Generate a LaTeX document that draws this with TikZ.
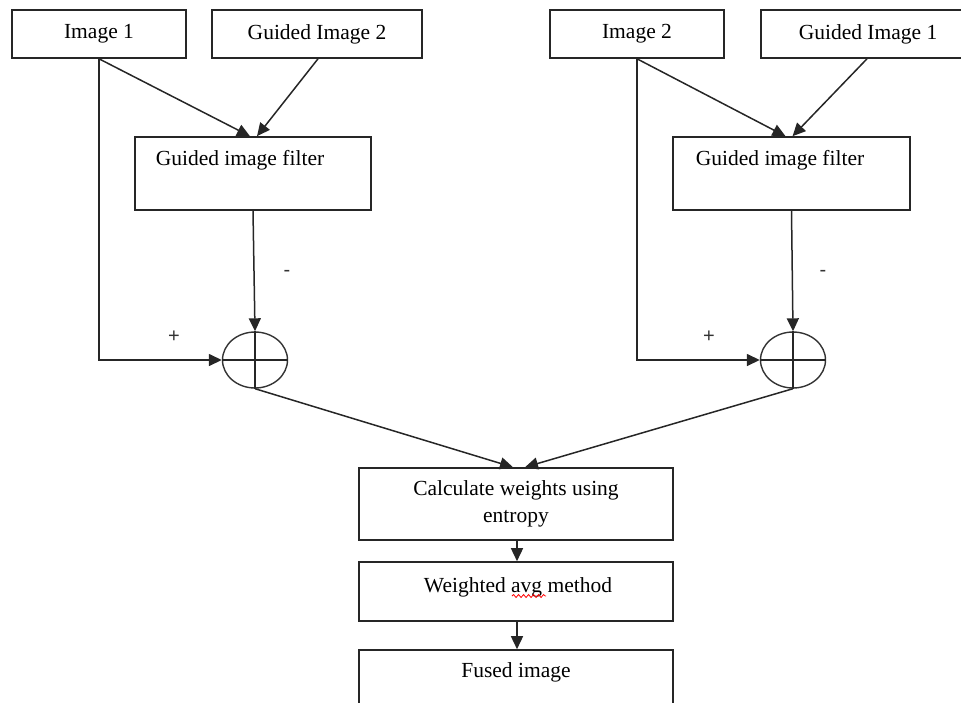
\documentclass[tikz,border=0pt]{standalone}
\usepackage{fontspec}
\setmainfont{Liberation Serif}
\newfontfamily\signfont{Liberation Sans}
\usetikzlibrary{arrows.meta,shapes.geometric,calc,decorations.pathmorphing}
\begin{document}
\begin{tikzpicture}[x=1pt,y=-1pt,
  every node/.style={font=\fontsize{21.5}{27}\selectfont},
  box/.style={draw=black!85,line width=1.6pt,rectangle,inner sep=0pt},
  txt/.style={inner sep=0pt},
  sumnode/.style={draw=black!80,line width=1.4pt,ellipse,minimum width=65pt,minimum height=56pt,inner sep=0pt},
  conn/.style={draw=black!85,line width=1.5pt},
  arr/.style={conn,-{Triangle[length=13pt,width=12pt]}},
  sign/.style={inner sep=0pt,text=black!80,font=\signfont\fontsize{20}{24}\selectfont}]
\useasboundingbox (0,0) rectangle (961,702);
\clip (0,0) rectangle (961,702);
% top boxes
\node[box,minimum width=174pt,minimum height=48pt] (i1) at (99,34) {Image 1};
\node[box,minimum width=210pt,minimum height=48pt] (g2) at (317,34) {Guided Image 2};
\node[box,minimum width=174pt,minimum height=48pt] (i2) at (637,34) {Image 2};
\node[box,minimum width=214pt,minimum height=48pt] (g1) at (868,34) {Guided Image 1};
% filters
\node[box,minimum width=236pt,minimum height=73pt] (fl) at (253,173.5) {};
\node[txt] (flt) at (240,160) {Guided image filter};
\node[box,minimum width=237pt,minimum height=73pt] (fr) at (791.5,173.5) {};
\node[txt] (frt) at (780,160) {Guided image filter};
% summing junctions
\node[sumnode] (sl) at (255,360) {};
\draw[conn] (sl.north) -- (sl.south) (sl.west) -- (sl.east);
\node[sumnode] (sr) at (793,360) {};
\draw[conn] (sr.north) -- (sr.south) (sr.west) -- (sr.east);
% bottom chain
\node[box,minimum width=314pt,minimum height=72pt,align=center] (calc) at (516,504) {Calculate weights using\\entropy};
\node[box,minimum width=314pt,minimum height=59pt] (wavg) at (516,591.5) {};
\node[txt,anchor=base] (wavgt) at (518,592) {Weighted avg method};
\node[box,minimum width=314pt,minimum height=62pt] (fused) at (516,681) {};
\node[txt] (fusedt) at (516,672) {Fused image};
% red wavy underline under "avg"
\coordinate (wv1) at (512,596);
\coordinate (wv2) at (546,596);
\draw[red,line width=0.8pt,decorate,decoration={snake,amplitude=1.5pt,segment length=5pt}] (wv1) -- (wv2);
% left branch connectors
\draw[arr] (i1.south) -- ([xshift=-3pt]fl.north);
\draw[arr] ([xshift=1pt]g2.south) -- ([xshift=4pt]fl.north);
\draw[arr] (i1.south) |- (sl.west);
\draw[arr] (fl.south) -- (sl.north);
% right branch connectors
\draw[arr] (i2.south) -- ([xshift=-6pt]fr.north);
\draw[arr] ([xshift=-1pt]g1.south) -- ([xshift=1pt]fr.north);
\draw[arr] (i2.south) |- (sr.west);
\draw[arr] (fr.south) -- (sr.north);
% to calc
\draw[arr] (sl.south) -- ([xshift=-3pt]calc.north);
\draw[arr] (sr.south) -- ([xshift=9pt]calc.north);
\draw[arr] ([xshift=1pt]calc.south) -- ([xshift=1pt]wavg.north);
\draw[arr] ([xshift=1pt]wavg.south) -- ([xshift=1pt]fused.north);
% signs
\node[sign] (ml) at (287,273) {-};
\node[sign] (pl) at (174,337) {+};
\node[sign] (mr) at (823,273) {-};
\node[sign] (pr) at (709,337) {+};
\end{tikzpicture}
\end{document}
